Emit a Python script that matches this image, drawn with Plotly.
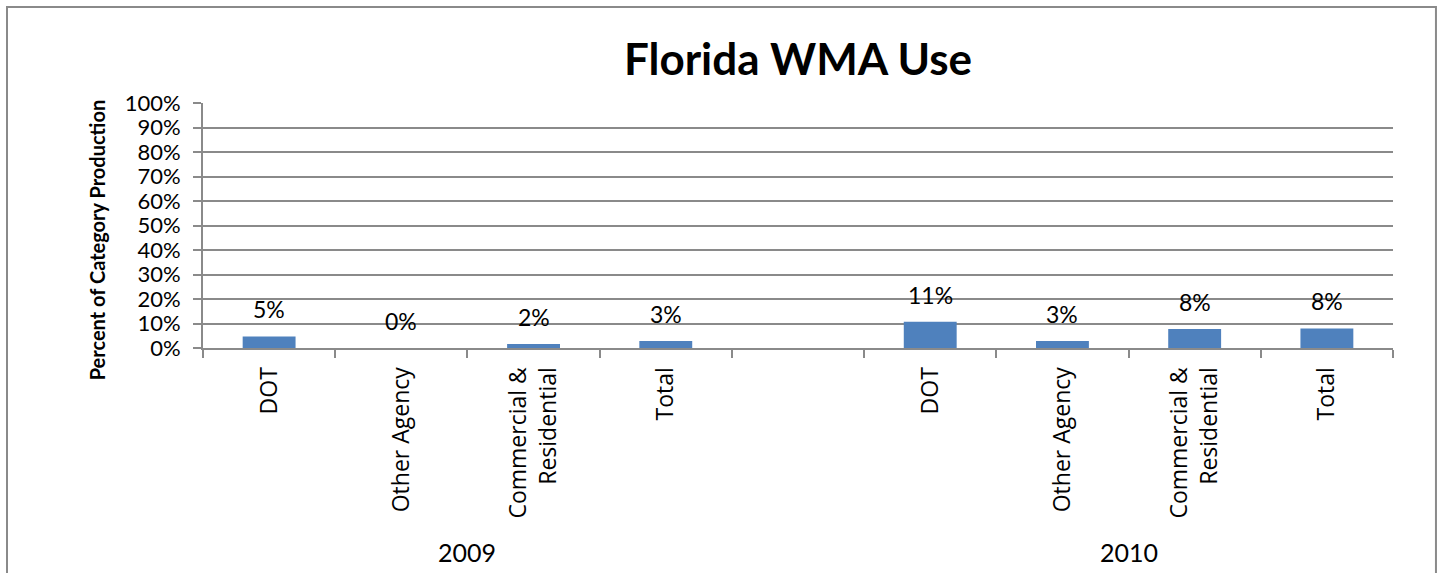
import plotly.graph_objects as go

# chart data
years = ["2009", "2010"]
categories = ["DOT", "Other Agency", "Commercial &<br>Residential", "Total"]
pct_2009 = [0.047, 0.0, 0.016, 0.029]
pct_2010 = [0.107, 0.029, 0.078, 0.080]
y_ticks = [0.0, 0.1, 0.2, 0.3, 0.4, 0.5, 0.6, 0.7, 0.8, 0.9, 1.0]

GRAY = "#8a8a8a"
BLUE = "#4f81bd"
FONT = "Lato"

# build category keys: 2009 group, an empty slot, 2010 group
keys, labels, values = [], [], []
for year, vals in zip(years, [pct_2009, pct_2010]):
    if keys:
        keys.append("gap")
        labels.append("")
        values.append(None)
    for cat, v in zip(categories, vals):
        keys.append(f"{year} {cat}")
        labels.append(cat)
        values.append(v)

fig = go.Figure()

fig.add_trace(
    go.Bar(
        x=keys,
        y=values,
        marker=dict(color=BLUE, line=dict(width=0)),
        showlegend=False,
    )
)

# data labels above each bar
for k, v in zip(keys, values):
    if v is None:
        continue
    fig.add_annotation(
        x=k, y=v, xref="x", yref="y",
        text=f"{v:.0%}",
        showarrow=False,
        yanchor="middle",
        yshift=27,
        font=dict(family=FONT, size=23, color="black"),
    )

# year labels under each group
for year in years:
    idx = [i for i, k in enumerate(keys) if k.startswith(year)]
    fig.add_annotation(
        x=sum(idx) / len(idx), y=-0.833, xref="x", yref="paper",
        text=year,
        showarrow=False,
        xanchor="center",
        yanchor="middle",
        font=dict(family=FONT, size=25, color="black"),
    )

# y axis title
fig.add_annotation(
    x=-0.089, y=0.44, xref="paper", yref="paper",
    text="<b>Percent of Category Production</b>",
    textangle=-90,
    showarrow=False,
    xanchor="center",
    yanchor="middle",
    font=dict(family=FONT, size=20, color="black"),
)

# outer chart border
fig.add_shape(
    type="rect", xref="paper", yref="paper",
    x0=-0.1647, x1=1.0361, y0=-0.98, y1=1.392,
    line=dict(color=GRAY, width=2),
    fillcolor="rgba(0,0,0,0)",
)

fig.update_layout(
    width=1443,
    height=573,
    margin=dict(l=203, r=50, t=103, b=225),
    paper_bgcolor="white",
    plot_bgcolor="white",
    bargap=0.6,
    title=dict(
        text="<b>Florida WMA Use</b>",
        x=0.5, xref="paper", xanchor="center",
        y=1 - 60 / 573, yref="container", yanchor="middle",
        font=dict(family=FONT, size=44, color="black"),
    ),
    font=dict(family=FONT, size=22, color="black"),
)

fig.update_xaxes(
    type="category",
    categoryorder="array",
    categoryarray=keys,
    tickvals=keys,
    ticktext=labels,
    tickangle=-90,
    tickson="boundaries",
    ticks="outside",
    ticklen=8,
    tickcolor=GRAY,
    tickwidth=2,
    showline=True,
    linecolor=GRAY,
    linewidth=2,
    showgrid=False,
    range=[-0.5, len(keys) - 0.5],
    ticklabelstandoff=8,
    tickfont=dict(family="Open Sans", size=23, color="black"),
)

fig.update_yaxes(
    range=[0, 1],
    tickvals=y_ticks,
    tickformat=".0%",
    ticks="outside",
    ticklen=8,
    tickcolor=GRAY,
    tickwidth=2,
    showline=True,
    linecolor=GRAY,
    linewidth=2,
    showgrid=True,
    gridcolor=GRAY,
    gridwidth=2,
    zeroline=False,
    ticklabelstandoff=8,
    tickfont=dict(family=FONT, size=22, color="black"),
)

# page body has a default 8px margin; drop it so the figure sits at the corner
fig.write_html(
    "out.html",
    config={"displayModeBar": False},
    post_script="document.body.style.margin='0';",
)
